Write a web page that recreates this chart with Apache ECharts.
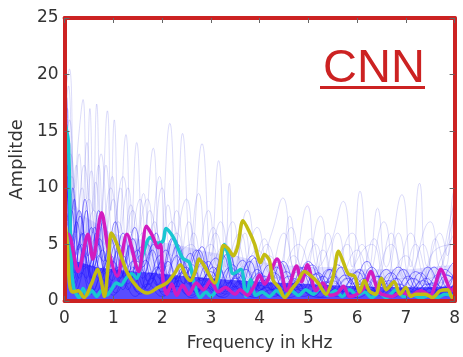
<!DOCTYPE html>
<html>
<head>
<meta charset="utf-8">
<script src="https://cdn.jsdelivr.net/npm/echarts@6/dist/echarts.min.js"></script>
<style>
  html, body { margin: 0; padding: 0; background: #fff; }
  #main { width: 463px; height: 357px; }
</style>
</head>
<body>
<div id="main"></div>
<script>
// 频谱数据：[频率 kHz, 幅值]，按图读取的转折点
const xTicks = [0, 1, 2, 3, 4, 5, 6, 7, 8]
const yTicks = [0, 5, 10, 15, 20, 25]

// 高亮的三条曲线
const magentaLine = [[0.03,5.6],[0.08,5.9],[0.28,2.6],[0.48,5.9],[0.58,3.7],[0.76,7.8],[0.9,4.5],[1.08,2.2],[1.28,5.9],[1.52,2.6],[1.68,6.6],[1.8,5.8],[1.92,4.7],[1.97,5.0],[2.02,1.8],[2.1,0.6],[2.2,1.5],[2.3,0.5],[2.42,1.4],[2.55,0.6],[2.7,1.6],[2.85,1.0],[3.0,1.8],[3.15,0.8],[3.3,1.2],[3.5,0.6],[3.6,1.0],[3.75,0.5],[3.9,1.4],[4.0,2.3],[4.1,1.5],[4.36,3.7],[4.56,0.9],[4.76,3.1],[4.86,1.7],[4.98,3.2],[5.16,0.9],[5.3,1.6],[5.45,0.5],[5.6,0.7],[5.72,1.3],[5.85,0.4],[6.0,0.6],[6.15,1.2],[6.28,2.6],[6.42,1.0],[6.5,0.6],[6.72,0.4],[6.9,0.8],[7.1,0.5],[7.3,0.9],[7.5,0.5],[7.6,1.4],[7.72,2.8],[7.85,1.6],[7.92,0.9],[8,1.2]]
const cyanLine = [[0.02,15.5],[0.08,14],[0.12,6],[0.15,2.5],[0.2,1.0],[0.3,0.3],[0.38,1.1],[0.46,0.5],[0.56,0.9],[0.66,0.4],[0.76,0.9],[0.86,0.5],[0.96,1.0],[1.06,1.6],[1.16,1.4],[1.26,2.0],[1.38,2.4],[1.48,2.0],[1.6,4.0],[1.76,5.6],[1.9,5.1],[2.02,5.3],[2.08,6.4],[2.22,5.7],[2.42,3.8],[2.56,3.4],[2.66,1.5],[2.78,0.3],[2.9,0.8],[3.0,0.4],[3.1,0.9],[3.18,2.5],[3.28,5.0],[3.36,4.0],[3.46,2.4],[3.62,2.8],[3.72,0.4],[3.82,1.9],[3.92,0.5],[4.05,0.8],[4.2,0.4],[4.35,0.9],[4.5,0.4],[4.65,0.9],[4.8,0.5],[4.95,1.0],[5.1,0.6],[5.25,1.1],[5.4,0.5],[5.55,0.9],[5.7,0.4],[5.85,1.0],[6.0,0.5],[6.15,0.8],[6.3,0.3],[6.45,0.7],[6.6,0.3],[6.8,1.0],[6.95,0.4],[7.1,0.6],[7.3,0.3],[7.5,0.5],[7.65,0.3],[7.8,0.6],[8,0.4]]
const yellowLine = [[0.02,6.5],[0.05,5.5],[0.1,1.6],[0.16,0.8],[0.28,0.9],[0.4,0.3],[0.55,1.5],[0.68,2.8],[0.75,1.8],[0.82,0.4],[0.9,3.5],[0.96,6.0],[1.06,5.2],[1.14,4.2],[1.3,2.4],[1.5,1.2],[1.7,0.7],[1.92,1.2],[2.1,1.6],[2.25,2.4],[2.38,3.2],[2.48,2.3],[2.58,1.8],[2.68,2.6],[2.76,3.7],[2.88,3.0],[3.08,1.6],[3.18,3.2],[3.26,4.9],[3.36,4.6],[3.46,4.0],[3.55,4.8],[3.66,7.1],[3.78,6.2],[3.9,5.0],[4.02,3.4],[4.1,4.1],[4.2,3.6],[4.28,1.8],[4.4,1.2],[4.52,0.3],[4.65,1.0],[4.78,1.7],[4.92,2.6],[5.06,2.2],[5.2,1.6],[5.36,0.6],[5.5,2.0],[5.62,4.4],[5.72,3.4],[5.82,2.4],[5.95,2.2],[6.05,0.8],[6.15,1.8],[6.25,0.9],[6.38,0.6],[6.5,2.0],[6.6,1.0],[6.76,1.7],[6.88,0.6],[7.0,1.2],[7.1,0.4],[7.2,0.6],[7.4,0.6],[7.55,0.3],[7.7,0.9],[7.86,1.0],[7.95,0.3],[8,0.5]]

// 较高的淡色背景曲线
const tall1 = [[0,18],[0.1,20.5],[0.2,10],[0.3,15],[0.38,17.8],[0.45,9],[0.52,17],[0.59,8],[0.66,17.4],[0.75,7],[0.88,16.8],[0.95,8],[1.02,16],[1.12,6],[1.26,14.7],[1.36,6],[1.48,14],[1.62,5],[1.82,13.5],[1.95,4],[2.16,15.7],[2.3,5],[2.42,14.8],[2.6,4],[2.82,13.9],[3.0,4],[3.16,12.4],[3.3,3],[3.38,10.4],[3.5,3],[3.7,6],[3.9,2],[4.2,4],[4.5,2],[5,3],[5.5,1.5],[6,2.5],[6.5,1.5],[7,2],[7.5,1.5],[8,2]]
const tall2 = [[0,14],[0.08,19],[0.2,8],[0.3,13],[0.42,6],[0.55,11.5],[0.7,5],[0.85,12],[1.0,5],[1.15,10],[1.3,4],[1.55,9],[1.7,4],[1.95,11],[2.1,4],[2.3,8],[2.5,3],[2.75,9.5],[2.95,3],[3.2,7],[3.45,2],[3.75,8],[4.0,3],[4.25,6],[4.48,9.1],[4.7,3],[4.98,8.4],[5.2,3],[5.45,5],[5.72,8.8],[5.9,3],[6.06,9.7],[6.25,3],[6.42,8.2],[6.6,3],[6.92,9.4],[7.1,3],[7.28,10.4],[7.45,3],[7.7,6],[7.85,4],[8,12]]
const tall3 = [[0,12],[0.1,16],[0.25,6],[0.4,12],[0.6,5],[0.75,13],[0.95,5],[1.2,11],[1.4,4],[1.7,9],[1.9,3],[2.2,7],[2.45,3],[2.65,6],[2.9,2.5],[3.3,5],[3.6,2],[3.95,4.5],[4.3,2],[4.65,6.5],[4.9,2],[5.25,7.5],[5.5,2],[5.9,6],[6.2,2],[6.55,7],[6.8,2],[7.1,6],[7.4,2],[7.6,5.5],[7.8,3],[7.95,9],[8,10]]
const tall4 = [[0,10],[0.12,13],[0.3,5],[0.5,9],[0.7,4],[0.95,10],[1.15,4],[1.4,8],[1.6,3],[1.85,7],[2.05,3],[2.6,5],[2.8,2],[3.1,6],[3.35,2],[3.55,5],[3.8,2],[4.1,5.5],[4.35,2],[4.8,5],[5.1,2],[5.4,6],[5.65,2],[6.0,4.5],[6.3,2],[6.7,5],[7.0,2],[7.5,7],[7.7,3],[7.9,6],[8,8]]
const tall5 = [[0,8],[0.15,11],[0.35,4],[0.6,8],[0.85,3],[1.1,7],[1.35,3],[1.6,6],[1.9,2.5],[2.3,6],[2.55,2],[3.0,5],[3.25,2],[3.5,4],[3.85,1.5],[4.1,4],[4.4,1.5],[4.7,4],[5.0,1.5],[5.3,4.5],[5.6,1.5],[6.3,5],[6.6,1.5],[7.0,4],[7.3,1.5],[7.6,4.5],[8,5]]
const tall6 = [[0,15],[0.06,17],[0.14,7],[0.24,12],[0.34,6],[0.46,14],[0.57,6],[0.7,12],[0.82,5],[0.98,11],[1.1,5],[1.3,10],[1.45,4],[1.62,9.5],[1.78,4],[2.0,10],[2.2,4],[2.5,9],[2.7,3.5],[2.95,8],[3.15,3],[3.45,7],[3.65,3],[3.95,6.5],[4.2,2.5],[4.5,6],[4.75,2.5],[5.05,5.5],[5.3,2],[5.6,6],[5.85,2],[6.1,5],[6.4,2],[6.7,6],[6.95,2],[7.2,5],[7.5,2],[7.75,4],[8,6]]
const tall7 = [[0,11],[0.1,14],[0.22,6],[0.36,10],[0.5,5],[0.64,10.5],[0.8,4.5],[1.0,9],[1.18,4],[1.36,8.5],[1.55,3.5],[1.75,8],[1.98,3],[2.12,8.5],[2.35,3],[2.55,7],[2.78,3],[3.05,6.5],[3.25,2.5],[3.6,6],[3.85,2.5],[4.15,5],[4.4,2],[4.62,7.5],[4.85,2],[5.15,5],[5.4,2],[5.8,5],[6.05,2],[6.35,5.5],[6.6,2],[6.85,6],[7.1,2],[7.35,5],[7.6,2],[7.9,7],[8,9]]

// 底部密集的蓝色曲线
const dense1 = [[0,9],[0.05,12],[0.15,3],[0.3,5],[0.45,2],[0.6,4],[0.8,1.5],[1.0,3.5],[1.2,1],[1.4,3],[1.6,1],[1.85,2.5],[2.1,0.8],[2.4,2.5],[2.7,0.8],[3.0,2],[3.3,0.6],[3.6,1.8],[3.9,0.5],[4.2,1.6],[4.5,0.5],[4.8,1.5],[5.1,0.4],[5.4,1.4],[5.8,0.5],[6.2,1.3],[6.6,0.4],[7.0,1.2],[7.4,0.4],[7.8,1.2],[8,0.8]]
const dense2 = [[0,6],[0.1,8],[0.2,2],[0.35,6],[0.5,1.5],[0.7,5],[0.9,2],[1.1,4.5],[1.3,1.5],[1.55,4],[1.75,1.5],[2.0,3.5],[2.2,1],[2.5,3],[2.75,1],[3.05,3],[3.3,1],[3.6,2.5],[3.85,0.8],[4.1,2.2],[4.4,0.7],[4.7,2],[5.0,0.7],[5.3,2.2],[5.6,0.7],[5.95,2],[6.3,0.6],[6.65,1.8],[7.0,0.6],[7.35,1.8],[7.7,0.6],[8,1.5]]
const dense3 = [[0,12],[0.05,15],[0.12,4],[0.25,7],[0.4,3],[0.55,6.5],[0.75,2.5],[0.95,5.5],[1.15,2],[1.35,5],[1.6,2],[1.8,4.5],[2.05,1.5],[2.3,4],[2.55,1.5],[2.85,3.5],[3.1,1.2],[3.4,3],[3.7,1],[4.0,2.5],[4.3,0.8],[4.6,2.2],[4.9,0.8],[5.2,2.5],[5.5,0.8],[5.8,2],[6.1,0.7],[6.45,2.2],[6.8,0.7],[7.15,2],[7.5,0.7],[7.85,2.3],[8,1.8]]
const dense4 = [[0,4],[0.08,7],[0.2,1.5],[0.4,4],[0.6,1],[0.8,3],[1.0,1],[1.25,2.5],[1.5,0.8],[1.75,2.5],[2.0,0.8],[2.25,2],[2.5,0.6],[2.8,2],[3.1,0.6],[3.4,1.6],[3.7,0.5],[4.0,1.4],[4.3,0.4],[4.6,1.3],[4.9,0.4],[5.25,1.2],[5.6,0.4],[5.95,1.1],[6.3,0.4],[6.7,1.2],[7.1,0.4],[7.5,1.1],[7.9,0.4],[8,0.6]]
const dense5 = [[0,16],[0.04,18],[0.1,6],[0.2,9],[0.3,3],[0.45,8],[0.6,3],[0.8,7],[1.0,2.5],[1.2,6],[1.45,2],[1.7,5],[1.95,2],[2.2,5.5],[2.45,1.5],[2.7,4.5],[3.0,1.5],[3.25,4],[3.5,1.2],[3.8,3.5],[4.05,1],[4.35,3],[4.6,1],[4.9,3],[5.15,1],[5.45,2.8],[5.75,0.8],[6.05,2.8],[6.35,0.8],[6.7,2.5],[7.0,0.8],[7.3,2.5],[7.6,0.8],[7.9,3],[8,3.5]]
const dense6 = [[0,7],[0.1,10],[0.2,2.5],[0.35,5],[0.55,2],[0.7,4],[0.9,1.2],[1.1,3],[1.3,1],[1.5,3.5],[1.7,1],[1.95,3],[2.2,0.8],[2.45,2.5],[2.7,0.7],[2.95,2.4],[3.2,0.6],[3.5,2],[3.8,0.6],[4.1,1.8],[4.4,0.5],[4.75,1.6],[5.05,0.5],[5.35,1.7],[5.7,0.5],[6.05,1.5],[6.4,0.5],[6.75,1.6],[7.1,0.5],[7.45,1.5],[7.8,0.5],[8,1.2]]
const dense7 = [[0,3],[0.1,5],[0.25,1],[0.45,3],[0.65,0.8],[0.85,2.5],[1.05,0.7],[1.3,2],[1.55,0.6],[1.8,2],[2.05,0.5],[2.35,1.8],[2.6,0.5],[2.9,1.5],[3.2,0.4],[3.5,1.3],[3.8,0.4],[4.15,1.2],[4.5,0.3],[4.85,1.1],[5.2,0.3],[5.55,1],[5.9,0.3],[6.25,1],[6.6,0.3],[6.95,1],[7.3,0.3],[7.65,1],[8,0.5]]
const dense8 = [[0,10],[0.06,13],[0.15,5],[0.3,8],[0.5,3],[0.65,6],[0.85,2.5],[1.05,5],[1.25,2],[1.5,4.5],[1.7,1.8],[1.95,4],[2.15,1.5],[2.4,3.8],[2.65,1.2],[2.95,3.5],[3.2,1.2],[3.45,3.2],[3.7,1],[3.95,2.8],[4.25,1],[4.55,2.6],[4.85,0.9],[5.15,2.4],[5.45,0.9],[5.75,2.3],[6.1,0.8],[6.4,2.2],[6.75,0.8],[7.05,2.2],[7.35,0.8],[7.7,2.4],[8,2]]
const dense9 = [[0,5],[0.12,6],[0.3,2],[0.5,5.5],[0.7,2],[0.95,4],[1.15,1.5],[1.4,3.5],[1.65,1.2],[1.9,3],[2.15,1],[2.45,3],[2.7,1],[3.0,2.6],[3.3,0.8],[3.55,2.4],[3.85,0.8],[4.2,2],[4.5,0.6],[4.8,1.8],[5.1,0.6],[5.5,1.8],[5.8,0.6],[6.15,1.6],[6.5,0.6],[6.85,1.5],[7.2,0.6],[7.55,1.6],[7.9,0.6],[8,0.9]]
const dense10 = [[0,2],[0.1,4],[0.2,1],[0.35,2.5],[0.55,0.6],[0.75,2],[1.0,0.5],[1.2,1.6],[1.45,0.4],[1.7,1.5],[2.0,0.4],[2.3,1.3],[2.6,0.3],[2.9,1.2],[3.25,0.3],[3.55,1.1],[3.9,0.3],[4.25,1],[4.6,0.3],[4.95,0.9],[5.3,0.3],[5.65,0.9],[6.0,0.3],[6.35,0.9],[6.7,0.3],[7.05,0.9],[7.4,0.3],[7.75,0.9],[8,0.4]]
const dense11 = [[0,11],[0.08,9],[0.18,5],[0.32,7.5],[0.48,4],[0.62,6.5],[0.8,3.5],[0.98,6],[1.18,3],[1.4,5.5],[1.6,3],[1.82,5],[2.0,2.5],[2.25,5.5],[2.5,2.5],[2.75,4.5],[3.0,2],[3.3,4.5],[3.55,2],[3.85,4],[4.1,1.5],[4.4,3.5],[4.7,1.5],[5.0,3.5],[5.3,1.5],[5.6,3.2],[5.9,1.5],[6.2,3.5],[6.5,1.2],[6.85,3],[7.15,1.2],[7.45,3],[7.75,1.2],[8,2.5]]
const dense12 = [[0,8],[0.07,11],[0.22,4],[0.38,6],[0.55,3],[0.72,5.5],[0.92,2.5],[1.12,5],[1.32,2.2],[1.58,4.8],[1.8,2],[2.08,4.5],[2.3,2],[2.58,4.2],[2.8,1.8],[3.1,3.8],[3.35,1.6],[3.65,3.6],[3.92,1.4],[4.2,3.2],[4.5,1.2],[4.82,3],[5.1,1.2],[5.42,2.8],[5.7,1.1],[6.0,2.6],[6.28,1],[6.6,2.8],[6.9,1],[7.2,2.6],[7.55,1],[7.8,2.8],[8,2]]
const dense13 = [[0,6],[0.14,8],[0.27,3],[0.42,5],[0.58,2],[0.78,4.5],[0.98,1.8],[1.2,4],[1.42,1.5],[1.66,3.6],[1.9,1.4],[2.12,3.5],[2.38,1.2],[2.62,3.2],[2.88,1],[3.15,3],[3.42,1],[3.72,2.8],[4.0,0.9],[4.3,2.5],[4.62,0.8],[4.92,2.3],[5.22,0.8],[5.52,2.2],[5.85,0.7],[6.15,2],[6.48,0.7],[6.8,2],[7.1,0.7],[7.42,2],[7.72,0.7],[8,1.6]]
const dense14 = [[0,14],[0.03,16],[0.09,7],[0.17,10],[0.28,4.5],[0.42,9],[0.56,4],[0.7,8],[0.86,3.5],[1.04,7],[1.22,3],[1.44,6.5],[1.64,2.5],[1.88,6],[2.08,2.2],[2.32,5],[2.56,2],[2.82,4.8],[3.05,1.8],[3.35,4.2],[3.62,1.5],[3.9,3.8],[4.18,1.4],[4.48,3.5],[4.78,1.2],[5.08,3.2],[5.38,1.2],[5.68,3],[6.0,1],[6.3,3],[6.62,1],[6.95,2.8],[7.25,1],[7.58,3],[7.85,1.2],[8,3]]

// 密集区的包络
const bandOuter = [[0,13],[0.1,10],[0.3,8],[0.6,7],[1,6],[1.5,5.5],[2,5.2],[2.5,4.8],[3,4.3],[3.5,4],[4,3.5],[4.5,3.2],[5,3],[5.5,3],[6,2.8],[6.5,2.8],[7,2.8],[7.5,3],[8,3.2]]
const bandCore = [[0,9],[0.1,4.2],[0.5,3.2],[1,2.8],[2,2.4],[3,2],[4,1.7],[5,1.5],[6,1.3],[7,1.2],[8,1.3]]

const tallLines = [tall1, tall2, tall3, tall4, tall5, tall6, tall7]
const denseLines = [dense1, dense2, dense3, dense4, dense5, dense6, dense7, dense8, dense9, dense10, dense11, dense12, dense13, dense14]

const chart = echarts.init(document.getElementById("main"), null, { renderer: "canvas" })

const FONT = "DejaVu Sans"
const RED = "#cc2222"

const series = []

series.push({
  type: "line", data: bandOuter, smooth: true, symbol: "none", silent: true,
  lineStyle: { width: 0 }, areaStyle: { color: "#3a30ff", opacity: 0.14 }
})
series.push({
  type: "line", data: bandCore, smooth: true, symbol: "none", silent: true,
  lineStyle: { width: 0 }, areaStyle: { color: "#2414ff", opacity: 0.72 }
})

tallLines.forEach((d) => {
  series.push({
    type: "line", data: d, smooth: true, symbol: "none", silent: true,
    lineStyle: { width: 1, color: "#5050e8", opacity: 0.2 }
  })
})
denseLines.forEach((d) => {
  series.push({
    type: "line", data: d, smooth: true, symbol: "none", silent: true,
    lineStyle: { width: 1, color: "#2418ff", opacity: 0.5 }
  })
})

// 高亮曲线
const hl = [
  [cyanLine, "#19c6d2"],
  [magentaLine, "#d21cc0"],
  [yellowLine, "#c3bc12"]
]
hl.forEach(([d, c]) => {
  series.push({
    type: "line", data: d, smooth: 0.3, symbol: "none", silent: true,
    lineStyle: { width: 3.5, color: c, cap: "round", join: "round" }
  })
})

const axisCommon = {
  type: "value",
  axisLine: { show: true, onZero: false, lineStyle: { color: RED, width: 4 } },
  axisTick: { show: true, inside: true, length: 5, lineStyle: { color: "#666", width: 1 } },
  splitLine: { show: false },
  z: 10
}

chart.setOption({
  animation: false,
  backgroundColor: "#fff",
  grid: { left: 62, right: 2, top: 18, bottom: 55 },
  title: {
    text: "CNN",
    left: 318, top: 41,
    textStyle: { color: RED, fontSize: 47, fontWeight: "normal", fontFamily: "Liberation Sans" }
  },
  graphic: [
    { type: "rect", left: 320, top: 86, shape: { width: 105, height: 3 }, style: { fill: RED } }
  ],
  xAxis: [
    Object.assign({}, axisCommon, {
      min: 0, max: 8, interval: 1, position: "bottom",
      name: "Frequency in kHz", nameLocation: "middle", nameGap: 34,
      nameTextStyle: { fontFamily: FONT, fontSize: 17, color: "#333" },
      axisLabel: { fontFamily: FONT, fontSize: 17, color: "#333", margin: 9 }
    }),
    Object.assign({}, axisCommon, {
      min: 0, max: 8, interval: 1, position: "top",
      axisLabel: { show: false }
    })
  ],
  yAxis: [
    Object.assign({}, axisCommon, {
      min: 0, max: 25, interval: 5, position: "left",
      name: "Amplitde", nameLocation: "middle", nameGap: 36,
      nameTextStyle: { fontFamily: FONT, fontSize: 18, color: "#333" },
      axisLabel: { fontFamily: FONT, fontSize: 17, color: "#333", margin: 6 }
    }),
    Object.assign({}, axisCommon, {
      min: 0, max: 25, interval: 5, position: "right",
      axisLabel: { show: false }
    })
  ],
  series: series
})
</script>
</body>
</html>
